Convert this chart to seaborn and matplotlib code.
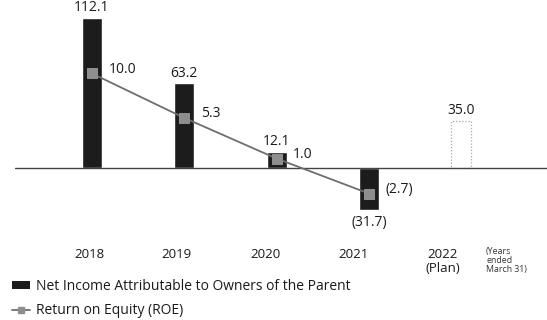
import matplotlib
matplotlib.use("Agg")
import matplotlib.pyplot as plt
from matplotlib.lines import Line2D
from matplotlib.patches import Patch
import pandas as pd
import seaborn as sns

# Fiscal years (ended March 31), billions of yen
years = ["2018", "2019", "2020", "2021", "2022"]
year_labels = ["2018", "2019", "2020", "2021", "2022\n(Plan)"]
net_income = [112.1, 63.2, 12.1, -31.7, 35.0]
roe = [10.0, 5.3, 1.0, -2.7]

def fmt(v):
    return f"({abs(v):.1f})" if v < 0 else f"{v:.1f}"

sns.set_theme(style="white")
plt.rcParams["font.family"] = ["Open Sans", "DejaVu Sans"]

W, H = 547, 320
fig = plt.figure(figsize=(W / 100, H / 100), dpi=100)
left_px = 15
ax = fig.add_axes([left_px / W, 0, 1 - left_px / W, 1])

px_per_cat = 92.3
x0_px = 92
base_px = 168
inc_scale = 1.34   # px per unit of net income
roe_scale = 9.45   # px per point of ROE

df = pd.DataFrame({"year": years, "income": net_income})
sns.barplot(data=df, x="year", y="income", order=years, color="#1c1c1c",
            saturation=1, width=0.215, ax=ax)
ax.set_xlim((left_px - x0_px) / px_per_cat, (W - x0_px) / px_per_cat)
ax.set_ylim(-(H - base_px) / inc_scale, base_px / inc_scale)

# plan year drawn as a dotted outline
plan = ax.patches[4]
plan.set_facecolor("none")
plan.set_edgecolor("#a8a8a8")
plan.set_linestyle((0, (1, 1.5)))
plan.set_linewidth(0.9)

ax.axhline(0, color="#444444", lw=1.0, zorder=1)

for i, v in enumerate(net_income):
    if v >= 0:
        ax.annotate(fmt(v), (i, v), xytext=(0, 2), textcoords="offset points",
                    ha="center", va="bottom", fontsize=10, color="#1a1a1a")
    else:
        ax.annotate(fmt(v), (i, v), xytext=(0, -3), textcoords="offset points",
                    ha="center", va="top", fontsize=10, color="#1a1a1a")

ax2 = ax.twinx()
sns.lineplot(x=list(range(len(roe))), y=roe, ax=ax2, color="#6e6e6e", lw=1.3,
             marker="s", markersize=7, markerfacecolor="#8e8e8e",
             markeredgecolor="#8e8e8e", zorder=5)
ax2.set_ylim(-(H - base_px) / roe_scale, base_px / roe_scale)
for i, v in enumerate(roe):
    ax2.annotate(fmt(v), (i, v), xytext=(12, 3), textcoords="offset points",
                 ha="left", va="center", fontsize=10, color="#1a1a1a")

# year labels under the chart
label_y = -(248 - base_px) / inc_scale
shifts = [-0.03, -0.08, -0.12, -0.17, -0.2]
for i, lab in enumerate(year_labels):
    ax.text(i + shifts[i], label_y, lab, ha="center", va="top",
            fontsize=9.5, color="#1a1a1a", linespacing=1.1)
ax.text(4.27, label_y + 1, "(Years\nended\nMarch 31)", ha="left", va="top",
        multialignment="left", fontsize=6.3, color="#333333", linespacing=1.05)

for a in (ax, ax2):
    a.set_xlabel("")
    a.set_ylabel("")
    a.set_xticks([])
    a.set_yticks([])
    for s in a.spines.values():
        s.set_visible(False)
    a.patch.set_alpha(0)

handles = [
    Patch(facecolor="#1c1c1c", edgecolor="none"),
    Line2D([0], [0], color="#6e6e6e", lw=1.3, marker="s", markersize=5,
           markerfacecolor="#8e8e8e", markeredgecolor="#8e8e8e"),
]
labels = ["Net Income Attributable to Owners of the Parent",
          "Return on Equity (ROE)"]
fig.legend(handles, labels, loc="upper left", bbox_to_anchor=(0.022, 0.128),
           frameon=False, fontsize=10, handlelength=1.3, handleheight=0.55,
           handletextpad=0.4, labelspacing=0.65, borderaxespad=0,
           borderpad=0, labelcolor="#1a1a1a")

fig.savefig("out.png", dpi=100)
